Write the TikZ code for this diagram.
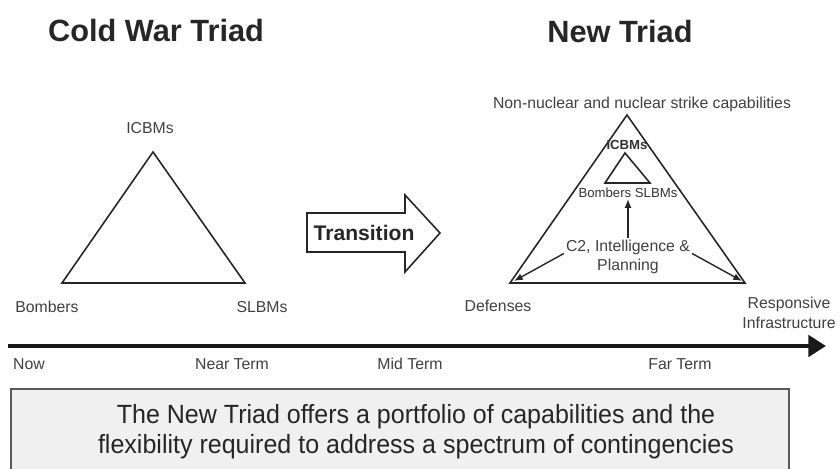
\documentclass[tikz,border=0pt]{standalone}
\usepackage{fontspec}
\setmainfont{Liberation Sans}
\newfontfamily\narrowsans[FakeStretch=0.95]{Liberation Sans}
\usetikzlibrary{arrows.meta}

\begin{document}
\begin{tikzpicture}[x=0.02cm, y=-0.02cm]

  \tikzstyle{title}  = [font=\fontsize{17.5}{20}\selectfont\bfseries, text=black!85]
  \tikzstyle{label}  = [font=\fontsize{9}{10}\selectfont, text=black!75, inner sep=1pt]
  \tikzstyle{small}  = [font=\fontsize{7.5}{8}\selectfont, text=black!80, inner sep=0.5pt]
  \tikzstyle{triad}  = [draw=black!85, line width=0.9pt, line join=miter]
  \tikzstyle{arrow}  = [draw=black!85, line width=0.8pt, -{Latex[length=5pt,width=4pt]}]

  \useasboundingbox (0,0) rectangle (840,469);

  % titles
  \node (coldtitle) [title] at (156,31) {Cold War Triad};
  \node (newtitle)  [title] at (620,32) {New Triad};

  % cold war triad
  \coordinate (ctop)   at (153,152);
  \coordinate (cleft)  at (62,283);
  \coordinate (cright) at (245,283);
  \draw [triad] (ctop) -- (cleft) -- (cright) -- cycle;
  \node (icbms)   [label] at (150,128) {ICBMs};
  \node (bombers) [label] at (47,307)  {Bombers};
  \node (slbms)   [label] at (262,307) {SLBMs};

  % transition arrow
  \draw [draw=black!85, line width=0.9pt, fill=white]
    (307,213) -- (405,213) -- (405,195) -- (440,233) -- (405,272) -- (405,252) -- (307,252) -- cycle;
  \node (transition) [font=\fontsize{12}{14}\selectfont\bfseries, text=black!85] at (364,233) {Transition};

  % new triad
  \coordinate (ntop)   at (627,115);
  \coordinate (nleft)  at (510,283);
  \coordinate (nright) at (745,283);
  \draw [triad] (ntop) -- (nleft) -- (nright) -- cycle;
  \node (strike) [label] at (642,104) {Non-nuclear and nuclear strike capabilities};

  \coordinate (itop)   at (625,153);
  \coordinate (ileft)  at (605,183);
  \coordinate (iright) at (650,183);
  \draw [triad] (itop) -- (ileft) -- (iright) -- cycle;
  \draw [draw=black!85, line width=1.6pt] (ileft) -- (iright);
  \node (newicbms) [small, font=\fontsize{7.5}{8}\selectfont\bfseries] at (627,145) {ICBMs};
  \node (newforce) [small] at (628,193) {Bombers SLBMs};

  \node (c2) [label, align=center, font=\fontsize{9}{10.5}\selectfont] at (628,257) {C2, Intelligence \&\\Planning};
  \draw [arrow] (c2.north) -- (newforce.south);
  \draw [arrow] ([yshift=2pt]c2.west) -- ([shift={(4,-2)}]nleft);
  \draw [arrow] ([yshift=2pt]c2.east) -- ([shift={(-3,-2)}]nright);

  \node (defenses)   [label] at (498,306) {Defenses};
  \node (responsive) [label, align=center, font=\fontsize{9}{11}\selectfont] at (789,313) {Responsive\\Infrastructure};

  % timeline
  \coordinate (tstart) at (8,346);
  \coordinate (tend)   at (826,346);
  \draw [draw=black!90, line width=2.8pt, -{Triangle[length=10pt,width=12pt]}] (tstart) -- (tend);
  \node (now)      [label] at (29,364)  {Now};
  \node (nearterm) [label] at (232,364) {Near Term};
  \node (midterm)  [label] at (410,364) {Mid Term};
  \node (farterm)  [label] at (680,364) {Far Term};

  % summary box
  \node (summary) [draw=black!65, line width=1.2pt, fill=black!6, minimum width=778*0.02cm,
    minimum height=92*0.02cm, anchor=north west, inner sep=0pt] at (10,388) {};
  \node (message) [align=center, font=\narrowsans\fontsize{15}{17}\selectfont, text=black!85] at (416,432)
    {The New Triad offers a portfolio of capabilities and the\\flexibility required to address a spectrum of contingencies};

\end{tikzpicture}
\end{document}
